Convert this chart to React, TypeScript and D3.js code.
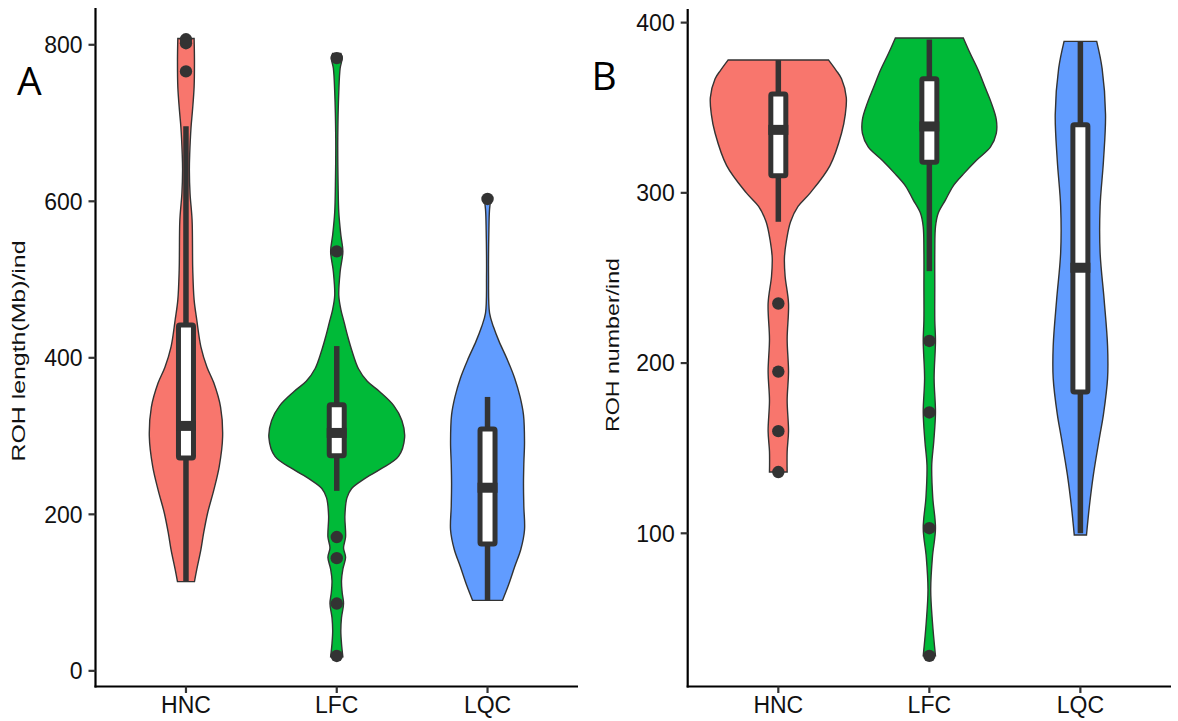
import React from 'react';
import * as d3 from 'd3';

const groups = ['HNC', 'LFC', 'LQC'];
const fills = ['#F8766D', '#00BA38', '#619CFF'];

// Panel A: ROH length (Mb) per individual
const lengthTicks = [0, 200, 400, 600, 800];
const lengthDomain = [-20, 847];
// [lower whisker, q1, median, q3, upper whisker]
const lengthBoxes = [
  [114, 272, 313, 442, 696],
  [230, 275, 304, 340, 415],
  [90, 162, 234, 309, 350],
];
const lengthOutliers = [[807, 802, 766], [783, 536, 171, 144, 86, 19], [603]];
// violin outline: [value, relative density]
const lengthViolins = [
  [[808, .12], [780, .125], [746, .12], [715, .095], [695, .075], [660, .055], [640, .05], [610, .06],
   [576, .09], [512, .10], [474, .12], [448, .16], [414, .22], [388, .31], [368, .41], [337, .51],
   [299, .54], [261, .49], [231, .41], [202, .32], [176, .26], [155, .22], [130, .16], [114, .125]],
  [[789, .06], [783, .08], [770, .05], [740, .03], [681, .015], [620, .02], [586, .03], [557, .06],
   [536, .09], [510, .05], [480, .03], [462, .06], [445, .11], [428, .16], [410, .22], [386, .32],
   [370, .45], [357, .63], [339, .84], [320, .96], [298, 1], [274, .91], [258, .65], [245, .4],
   [233, .22], [221, .15], [198, .12], [171, .13], [157, .10], [145, .13], [130, .09], [115, .07],
   [100, .08], [86, .10], [68, .07], [51, .06], [35, .07], [18, .09]],
  [[603, .05], [590, .03], [563, .02], [504, .015], [457, .03], [439, .09], [421, .17], [398, .29],
   [374, .40], [350, .48], [327, .53], [292, .545], [265, .535], [239, .53], [210, .535], [180, .545],
   [155, .49], [133, .40], [110, .31], [90, .22]],
];

// Panel B: ROH number per individual
const numberTicks = [100, 200, 300, 400];
const numberDomain = [10, 408];
const numberBoxes = [
  [283, 310, 337, 358, 378],
  [254, 318, 339, 367, 390],
  [100, 183, 256, 340, 389],
];
const numberOutliers = [[235, 195, 160, 136], [213, 171, 103, 28], []];
const numberViolins = [
  [[378, .74], [372, .85], [367, .93], [356, 1.0], [346, .985], [335, .93], [316, .76], [300, .47],
   [292, .29], [283, .18], [272, .12], [262, .09], [251, .10], [235, .15], [214, .13], [195, .15],
   [178, .13], [160, .15], [148, .13], [136, .13]],
  [[391, .5], [382, .6], [372, .72], [362, .82], [353, .91], [343, .985], [335, .985], [327, .9],
   [319, .69], [311, .5], [304, .35], [296, .24], [288, .13], [280, .09], [265, .08], [245, .08],
   [225, .08], [213, .09], [191, .07], [171, .09], [154, .065], [140, .035], [121, .05], [103, .09],
   [86, .045], [67, .02], [48, .045], [28, .09]],
  [[389, .24], [373, .32], [346, .37], [319, .34], [292, .29], [265, .29], [237, .35], [210, .40],
   [191, .40], [170, .34], [156, .28], [134, .19], [115, .13], [99, .09]],
];

const FONT = "'Liberation Sans', Arial, Helvetica, sans-serif";
const DARK = '#333333';

const Panel = ({ x0, x1, y0, y1, domain, ticks, violins, boxes, outliers,
  title, titleX, titleY, titleLen, tag, tagX, tagY }) => {
  const x = d3.scalePoint().domain(groups).range([x0, x1]).padding(0.6);
  const y = d3.scaleLinear().domain(domain).range([y1, y0]);
  const w = d3.scaleLinear().domain([0, 1]).range([0, x.step() * 0.45]);
  const boxHalf = 7.5;

  return (
    <g>
      {groups.map((g, i) => {
        const cx = x(g);
        const area = d3.area()
          .y(d => y(d[0]))
          .x0(d => cx - w(d[1]))
          .x1(d => cx + w(d[1]))
          .curve(d3.curveCatmullRom);
        const [lo, q1, med, q3, hi] = boxes[i];
        return (
          <g key={g}>
            <path d={area(violins[i])} fill={fills[i]} stroke={DARK} strokeWidth={1.4} />
            <line x1={cx} x2={cx} y1={y(q3)} y2={y(hi)} stroke={DARK} strokeWidth={5.5} />
            <line x1={cx} x2={cx} y1={y(q1)} y2={y(lo)} stroke={DARK} strokeWidth={5.5} />
            <rect x={cx - boxHalf} width={boxHalf * 2} y={y(q3)} height={y(q1) - y(q3)}
              fill="#fff" stroke={DARK} strokeWidth={5} rx={1.5} />
            <line x1={cx - boxHalf - 2.5} x2={cx + boxHalf + 2.5} y1={y(med)} y2={y(med)}
              stroke={DARK} strokeWidth={10} />
            {outliers[i].map((v, j) => (
              <circle key={j} cx={cx} cy={y(v)} r={6.2} fill={DARK} />
            ))}
          </g>
        );
      })}

      {/* axes */}
      <line x1={x0} x2={x0} y1={y0} y2={y1 + 1} stroke="#000" strokeWidth={2.2} />
      <line x1={x0 - 1} x2={x1} y1={y1} y2={y1} stroke="#000" strokeWidth={2.2} />
      {ticks.map(t => (
        <g key={t}>
          <line x1={x0 - 7} x2={x0} y1={y(t)} y2={y(t)} stroke={DARK} strokeWidth={2.2} />
          <text x={x0 - 13} y={y(t)} dy="0.36em" textAnchor="end" fontFamily={FONT}
            fontSize={23} fill="#111">{t}</text>
        </g>
      ))}
      {groups.map(g => (
        <g key={g}>
          <line x1={x(g)} x2={x(g)} y1={y1} y2={y1 + 6.5} stroke={DARK} strokeWidth={2.2} />
          <text x={x(g)} y={713} textAnchor="middle" fontFamily={FONT} fontSize={23}
            fill="#111">{g}</text>
        </g>
      ))}
      <text transform={`translate(${titleX},${titleY}) rotate(-90)`} textAnchor="middle"
        fontFamily={FONT} fontSize={18} fill="#111" textLength={titleLen}
        lengthAdjust="spacingAndGlyphs">{title}</text>
      <text x={tagX} y={tagY} fontFamily="'Open Sans', sans-serif" fontSize={39} fill="#000">{tag}</text>
    </g>
  );
};

export default function App() {
  return (
    <svg width={1178} height={721} style={{ position: 'absolute', left: 0, top: 0, background: '#fff' }}>
      <rect width={1178} height={721} fill="#fff" />
      <Panel x0={95.5} x1={578} y0={8} y1={686.5} domain={lengthDomain} ticks={lengthTicks}
        violins={lengthViolins} boxes={lengthBoxes} outliers={lengthOutliers}
        title="ROH length(Mb)/ind" titleX={25} titleY={351} titleLen={221}
        tag="A" tagX={17} tagY={95} />
      <Panel x0={687.7} x1={1171} y0={9} y1={686.5} domain={numberDomain} ticks={numberTicks}
        violins={numberViolins} boxes={numberBoxes} outliers={numberOutliers}
        title="ROH number/ind" titleX={619} titleY={345} titleLen={174}
        tag="B" tagX={591.5} tagY={90} />
    </svg>
  );
}
